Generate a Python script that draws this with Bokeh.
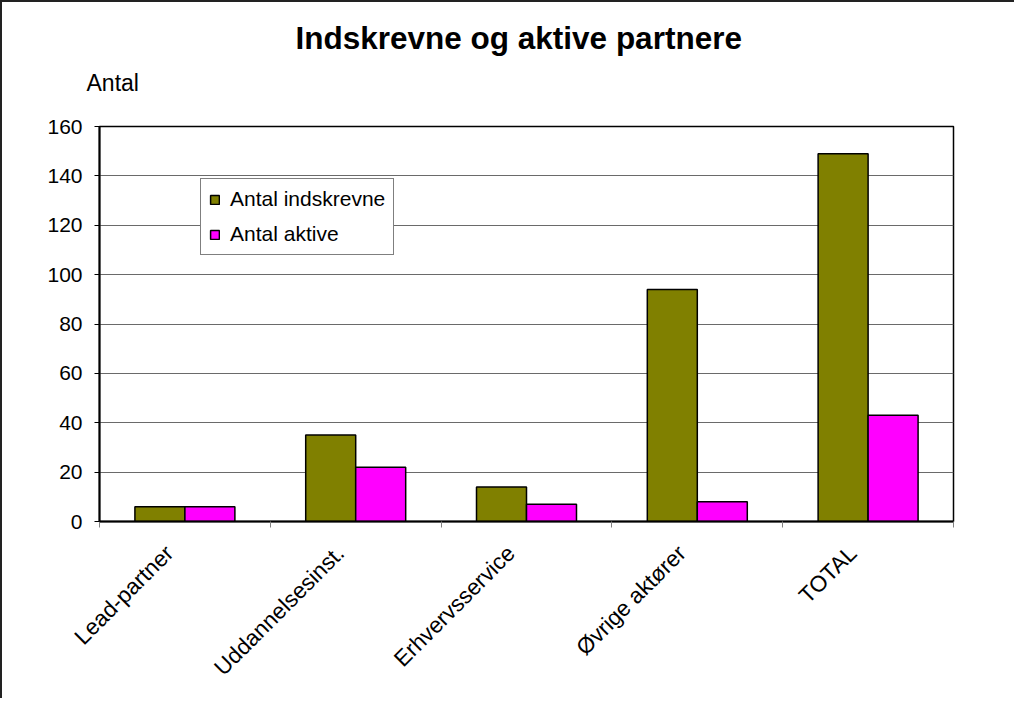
import numpy as np
from bokeh.plotting import figure
from bokeh.models import Range1d, FixedTicker, Title, ColumnDataSource
from bokeh.embed import file_html
from bokeh.resources import INLINE

categories = ["Lead-partner", "Uddannelsesinst.", "Erhvervsservice", "Øvrige aktører", "TOTAL"]
indskrevne = [6, 35, 14, 94, 149]
aktive = [6, 22, 7, 8, 43]
series_names = ["Antal indskrevne", "Antal aktive"]
y_ticks = [0, 20, 40, 60, 80, 100, 120, 140, 160]

FONT = "Liberation Sans"
centers = np.arange(len(categories)) + 0.5
bar_w = 0.2927

p = figure(width=1014, height=698, output_backend="svg", toolbar_location=None,
           x_range=Range1d(0, len(categories)), y_range=Range1d(0, 160),
           min_border_left=97, min_border_right=63, min_border_top=124, min_border_bottom=179)
p.styles = {"border-left": "2px solid #222", "border-top": "2px solid #222",
            "box-sizing": "border-box"}
p.background_fill_color = "white"
p.border_fill_color = "white"
p.outline_line_color = "black"
p.outline_line_width = 1.5

src1 = ColumnDataSource(dict(x=centers - bar_w / 2, top=indskrevne))
src2 = ColumnDataSource(dict(x=centers + bar_w / 2, top=aktive))
p.vbar(x="x", top="top", bottom=0, width=bar_w, source=src1, fill_color="#808000",
       line_color="black", line_width=1.5, legend_label=series_names[0])
p.vbar(x="x", top="top", bottom=0, width=bar_w, source=src2, fill_color="#FF00FF",
       line_color="black", line_width=1.5, legend_label=series_names[1])

# axes
label_pos = centers - 0.09
xa = p.xaxis[0]
xa.ticker = FixedTicker(ticks=list(label_pos), minor_ticks=list(range(len(categories) + 1)))
xa.major_label_overrides = {float(c): name for c, name in zip(label_pos, categories)}
xa.major_tick_line_color = None
xa.minor_tick_line_color = "#808080"
xa.minor_tick_out = 6
xa.minor_tick_in = 0
xa.axis_line_color = "black"
xa.axis_line_width = 2
xa.major_label_orientation = np.pi / 4
xa.major_label_text_font = FONT
xa.major_label_text_font_size = "22.5px"
xa.major_label_text_color = "black"
xa.major_label_standoff = 22

ya = p.yaxis[0]
ya.ticker = FixedTicker(ticks=y_ticks)
ya.minor_tick_line_color = None
ya.major_tick_out = 5
ya.major_tick_in = 0
ya.major_tick_line_color = "black"
ya.axis_line_color = "black"
ya.axis_line_width = 2
ya.major_label_text_font = FONT
ya.major_label_text_font_size = "21px"
ya.major_label_text_color = "black"
ya.major_label_standoff = 12

p.xgrid.grid_line_color = None
p.ygrid.ticker = FixedTicker(ticks=y_ticks)
p.ygrid.grid_line_color = "#6a6a6a"
p.ygrid.grid_line_width = 1.2

# axis caption and title (stack upward in the order added)
p.add_layout(Title(text="Antal", text_font=FONT, text_font_size="23px",
                   text_font_style="normal", align="left", offset=-13, standoff=61,
                   text_color="black"), "above")
p.add_layout(Title(text="Indskrevne og aktive partnere", text_font=FONT,
                   text_font_size="31.5px", text_font_style="bold", align="left",
                   offset=196, standoff=-36, text_color="black"), "above")

lg = p.legend[0]
lg.location = (101, 266)
lg.border_line_color = "black"
lg.border_line_width = 1
lg.background_fill_color = "white"
lg.background_fill_alpha = 1
lg.label_text_font = FONT
lg.label_text_font_size = "21px"
lg.label_text_color = "black"
lg.glyph_width = 11
lg.glyph_height = 11
lg.label_height = 24
lg.label_standoff = 10
lg.spacing = 11
lg.padding = 8
lg.margin = 0

open("out.html", "w").write(file_html(p, INLINE))
